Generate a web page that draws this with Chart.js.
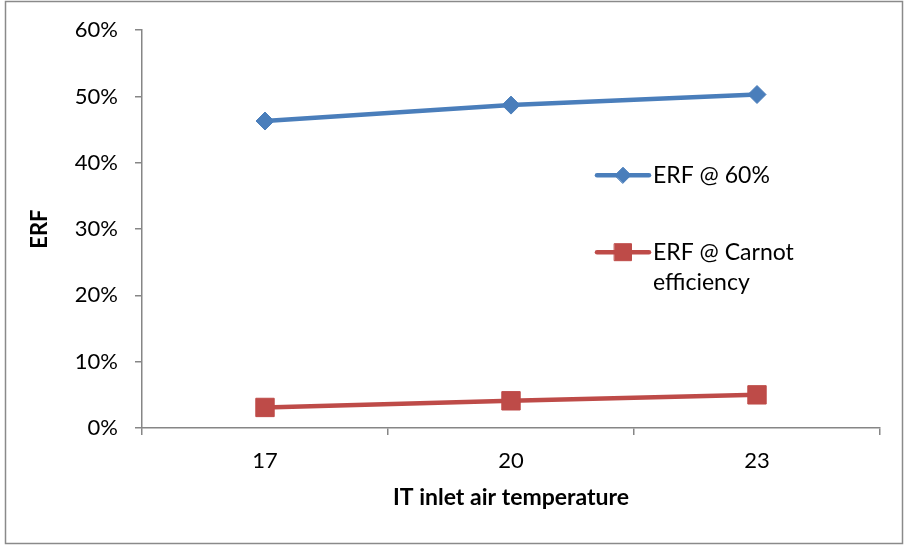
<!DOCTYPE html>
<html>
<head>
<meta charset="utf-8">
<script src="https://cdn.jsdelivr.net/npm/chart.js@4"></script>
<style>
  html, body { margin: 0; padding: 0; background: #fff; }
  #wrap { width: 909px; height: 546px; }
</style>
</head>
<body>
<div id="wrap"><canvas id="erfChart" width="909" height="546"></canvas></div>
<script>
const temperatures = ["17", "20", "23"];
const erf60 = [0.463, 0.487, 0.503];
const erfCarnot = [0.031, 0.041, 0.050];
const yTicks = [0, 0.1, 0.2, 0.3, 0.4, 0.5, 0.6];

const seriesNames = ["ERF @ 60%", ["ERF @ Carnot", "efficiency"]];
const blue = "#4A7EBB";
const red = "#BE4B48";
const axisGray = "#868686";
const fontFamily = "Lato, 'Open Sans', sans-serif";

// frame round the whole chart
const framePlugin = {
    id: "frame",
    afterDraw(chart) {
        const ctx = chart.ctx;
        ctx.save();
        ctx.strokeStyle = "#8a8a8a";
        ctx.lineWidth = 1.5;
        ctx.strokeRect(5.5, 1.5, 897, 542);
        ctx.restore();
    }
};

// legend drawn inside the plot like the Excel one
const sideLegend = {
    id: "sideLegend",
    afterDatasetsDraw(chart) {
        const ctx = chart.ctx;
        const area = chart.chartArea;
        const x0 = area.right - 283;
        const rows = [area.top + 145, area.top + 222];
        ctx.save();
        chart.data.datasets.forEach((ds, i) => {
            const y = rows[i];
            ctx.strokeStyle = ds.borderColor;
            ctx.lineWidth = 4.5;
            ctx.lineCap = "round";
            ctx.beginPath();
            ctx.moveTo(x0, y);
            ctx.lineTo(x0 + 52, y);
            ctx.stroke();
            ctx.fillStyle = ds.pointBackgroundColor;
            ctx.strokeStyle = ds.pointBorderColor;
            ctx.lineWidth = 1;
            Chart.helpers.drawPoint(ctx, {
                pointStyle: ds.pointStyle,
                radius: ds.pointStyle === "rect" ? 12 : 8,
                rotation: 0,
                borderWidth: 1
            }, x0 + 26, y);

            ctx.fillStyle = "#000";
            ctx.font = "23px " + fontFamily;
            ctx.textBaseline = "middle";
            ctx.textAlign = "left";
            const lines = Array.isArray(seriesNames[i]) ? seriesNames[i] : [seriesNames[i]];
            lines.forEach((t, k) => ctx.fillText(t, x0 + 56, y + k * 30));
        });
        ctx.restore();
    }
};

new Chart(document.getElementById("erfChart"), {
    type: "line",
    data: {
        labels: temperatures,
        datasets: [
            {
                label: "ERF @ 60%",
                data: erf60,
                borderColor: blue,
                backgroundColor: blue,
                pointBackgroundColor: blue,
                pointBorderColor: blue,
                borderWidth: 4.5,
                pointStyle: "rectRot",
                pointRadius: 9,
                pointBorderWidth: 1,
                tension: 0
            },
            {
                label: "ERF @ Carnot efficiency",
                data: erfCarnot,
                borderColor: red,
                backgroundColor: red,
                pointBackgroundColor: red,
                pointBorderColor: red,
                borderWidth: 4.5,
                pointStyle: "rect",
                pointRadius: 13,
                pointBorderWidth: 1,
                tension: 0
            }
        ]
    },
    options: {
        responsive: false,
        animation: false,
        devicePixelRatio: 1,
        layout: {
            padding: { top: 30, right: 29, bottom: 0, left: 0 }
        },
        plugins: {
            legend: { display: false },
            tooltip: { enabled: false }
        },
        scales: {
            x: {
                type: "category",
                offset: true,
                grid: {
                    offset: true,
                    drawOnChartArea: false,
                    drawTicks: true,
                    tickLength: 7,
                    color: axisGray,
                    lineWidth: 1.5
                },
                border: { color: axisGray, width: 1.5 },
                ticks: {
                    color: "#000",
                    padding: 13,
                    font: { family: fontFamily, size: 22 }
                },
                title: {
                    display: true,
                    text: "IT inlet air temperature",
                    color: "#000",
                    font: { family: fontFamily, size: 23, weight: "bold" },
                    padding: { top: 0, bottom: 35 }
                },
                afterFit(scale) { scale.height = 118; }
            },
            y: {
                min: 0,
                max: 0.6,
                afterBuildTicks(scale) {
                    scale.ticks = yTicks.map(v => ({ value: v }));
                },
                grid: {
                    drawOnChartArea: false,
                    drawTicks: true,
                    tickLength: 7,
                    color: axisGray,
                    lineWidth: 1.5
                },
                border: { color: axisGray, width: 1.5 },
                ticks: {
                    color: "#000",
                    padding: 17,
                    font: { family: fontFamily, size: 22 },
                    callback: v => Math.round(v * 100) + "%"
                },
                title: {
                    display: true,
                    text: "ERF",
                    color: "#000",
                    font: { family: fontFamily, size: 22, weight: "bold" },
                    padding: { top: 27, bottom: 0 }
                },
                afterFit(scale) { scale.width = 142; }
            }
        }
    },
    plugins: [framePlugin, sideLegend]
});
</script>
</body>
</html>
